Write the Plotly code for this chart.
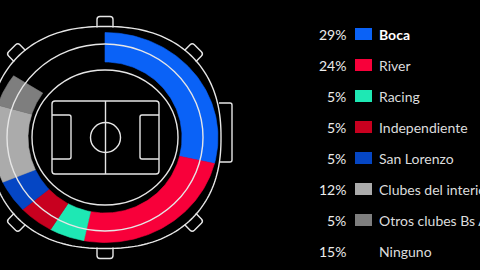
import numpy as np
import plotly.graph_objects as go

clubs = ["Boca", "River", "Racing", "Independiente", "San Lorenzo",
         "Clubes del interior", "Otros clubes Bs As", "Ninguno"]
shares = [29, 24, 5, 5, 5, 12, 5, 15]
colors = ["#0a62f7", "#f8003a", "#1ee8b4", "#c8001f", "#0546c4",
          "#ababab", "#7e7e7e", "rgba(0,0,0,0)"]
pct_labels = [f"{v}%" for v in shares]

W, H = 480, 270
cx, cy = 105, 137.5
RX_OUT, RY_OUT = 113, 105
RX_IN, RY_IN = 77, 75.5

fig = go.Figure()

# donut ring: each segment's angular span comes from its share
total = sum(shares)
cum = np.concatenate([[0], np.cumsum(shares)]) / total
for i, (name, val, col) in enumerate(zip(clubs, shares, colors)):
    if name == "Ninguno":
        continue
    t = np.radians(90 - 360 * np.linspace(cum[i], cum[i + 1], 80))
    xs = np.concatenate([cx + RX_OUT * np.cos(t), cx + RX_IN * np.cos(t[::-1])])
    ys = np.concatenate([cy - RY_OUT * np.sin(t), cy - RY_IN * np.sin(t[::-1])])
    fig.add_trace(go.Scatter(x=np.append(xs, xs[0]), y=np.append(ys, ys[0]),
                             mode="lines", fill="toself", fillcolor=col,
                             line=dict(color=col, width=0.6), name=name,
                             hoverinfo="name", showlegend=False))

line = dict(color="#e6e6e6", width=1.4)
shapes = []

# outer stadium wall: slightly squared ellipse
SA, SB, SN = 116, 111, 2.3


def sup_pt(deg):
    t = np.radians(deg)
    c, s = np.cos(t), np.sin(t)
    return (cx + SA * np.sign(c) * abs(c) ** (2 / SN),
            cy - SB * np.sign(s) * abs(s) ** (2 / SN))


pts = [sup_pt(d) for d in np.linspace(0, 360, 241)]
shapes.append(dict(type="path", xref="x", yref="y",
                   path="M " + " L ".join(f"{x:.2f} {y:.2f}" for x, y in pts) + " Z",
                   line=line))
# inner ring lines
for rx, ry in [(98, 93.5), (73, 67.5)]:
    shapes.append(dict(type="circle", xref="x", yref="y", x0=cx - rx, x1=cx + rx,
                       y0=cy - ry, y1=cy + ry, line=line))


def rrect(x0, y0, x1, y1, r):
    return (f"M {x0+r} {y0} L {x1-r} {y0} Q {x1} {y0} {x1} {y0+r} L {x1} {y1-r} "
            f"Q {x1} {y1} {x1-r} {y1} L {x0+r} {y1} Q {x0} {y1} {x0} {y1-r} "
            f"L {x0} {y0+r} Q {x0} {y0} {x0+r} {y0} Z")


# pitch
shapes.append(dict(type="path", xref="x", yref="y", path=rrect(52, 101, 159, 174, 3), line=line))
shapes.append(dict(type="line", xref="x", yref="y", x0=105.5, x1=105.5, y0=101, y1=174, line=line))
shapes.append(dict(type="circle", xref="x", yref="y", x0=90.5, x1=120.5, y0=122.5, y1=152.5, line=line))
shapes.append(dict(type="path", xref="x", yref="y",
                   path="M 52 115 L 69 115 Q 71 115 71 117 L 71 157 Q 71 159 69 159 L 52 159", line=line))
shapes.append(dict(type="path", xref="x", yref="y",
                   path="M 159 115 L 142 115 Q 140 115 140 117 L 140 157 Q 140 159 142 159 L 159 159", line=line))


# tabs (light towers) around outer wall
def tab(theta_deg, w=16, h=10):
    t = np.radians(theta_deg)
    bx, by = sup_pt(theta_deg)
    ux, uy = np.cos(t), -np.sin(t)
    px, py = -uy, ux
    pts = []
    for s, d in [(-w / 2, -1), (-w / 2, h - 3), (-w / 2 + 3, h), (w / 2 - 3, h), (w / 2, h - 3), (w / 2, -1)]:
        pts.append((bx + px * s + ux * d, by + py * s + uy * d))
    p = f"M {pts[0][0]:.1f} {pts[0][1]:.1f} L {pts[1][0]:.1f} {pts[1][1]:.1f} "
    p += f"Q {bx + px * (-w/2) + ux * h:.1f} {by + py * (-w/2) + uy * h:.1f} {pts[2][0]:.1f} {pts[2][1]:.1f} "
    p += f"L {pts[3][0]:.1f} {pts[3][1]:.1f} "
    p += f"Q {bx + px * (w/2) + ux * h:.1f} {by + py * (w/2) + uy * h:.1f} {pts[4][0]:.1f} {pts[4][1]:.1f} "
    p += f"L {pts[5][0]:.1f} {pts[5][1]:.1f}"
    return dict(type="path", xref="x", yref="y", path=p, line=line)


for ang in [90, -90, 135, 45, -135, -45]:
    shapes.append(tab(ang))
# right side structure
shapes.append(dict(type="path", xref="x", yref="y",
                   path="M 219 103 L 230 103 Q 232 103 232 105 L 232 160 Q 232 162 230 162 L 219 162",
                   line=line))

# legend swatches and texts
row_y = [34 + 31 * i for i in range(len(clubs))]
annotations = []
for i, (name, pct, col) in enumerate(zip(clubs, pct_labels, colors)):
    y = row_y[i]
    if name != "Ninguno":
        shapes.append(dict(type="rect", xref="x", yref="y", x0=355, x1=372, y0=y - 6, y1=y + 6,
                           fillcolor=col, line=dict(width=0)))
    annotations.append(dict(x=348, y=y, xref="x", yref="y", text=pct, showarrow=False,
                            xanchor="right", yanchor="middle",
                            font=dict(family="Lato", size=14, color="#ececec")))
    annotations.append(dict(x=377, y=y, xref="x", yref="y",
                            text=f"<b>{name}</b>" if i == 0 else name, showarrow=False,
                            xanchor="left", yanchor="middle",
                            font=dict(family="Lato", size=14,
                                      color="#ffffff" if i == 0 else "#dcdcdc")))

fig.update_layout(
    width=W, height=H, margin=dict(l=0, r=0, t=0, b=0),
    paper_bgcolor="#000000", plot_bgcolor="#000000",
    xaxis=dict(range=[0, W], visible=False, fixedrange=True),
    yaxis=dict(range=[H, 0], visible=False, fixedrange=True),
    shapes=shapes, annotations=annotations, showlegend=False,
)
fig.write_html("out.html")
